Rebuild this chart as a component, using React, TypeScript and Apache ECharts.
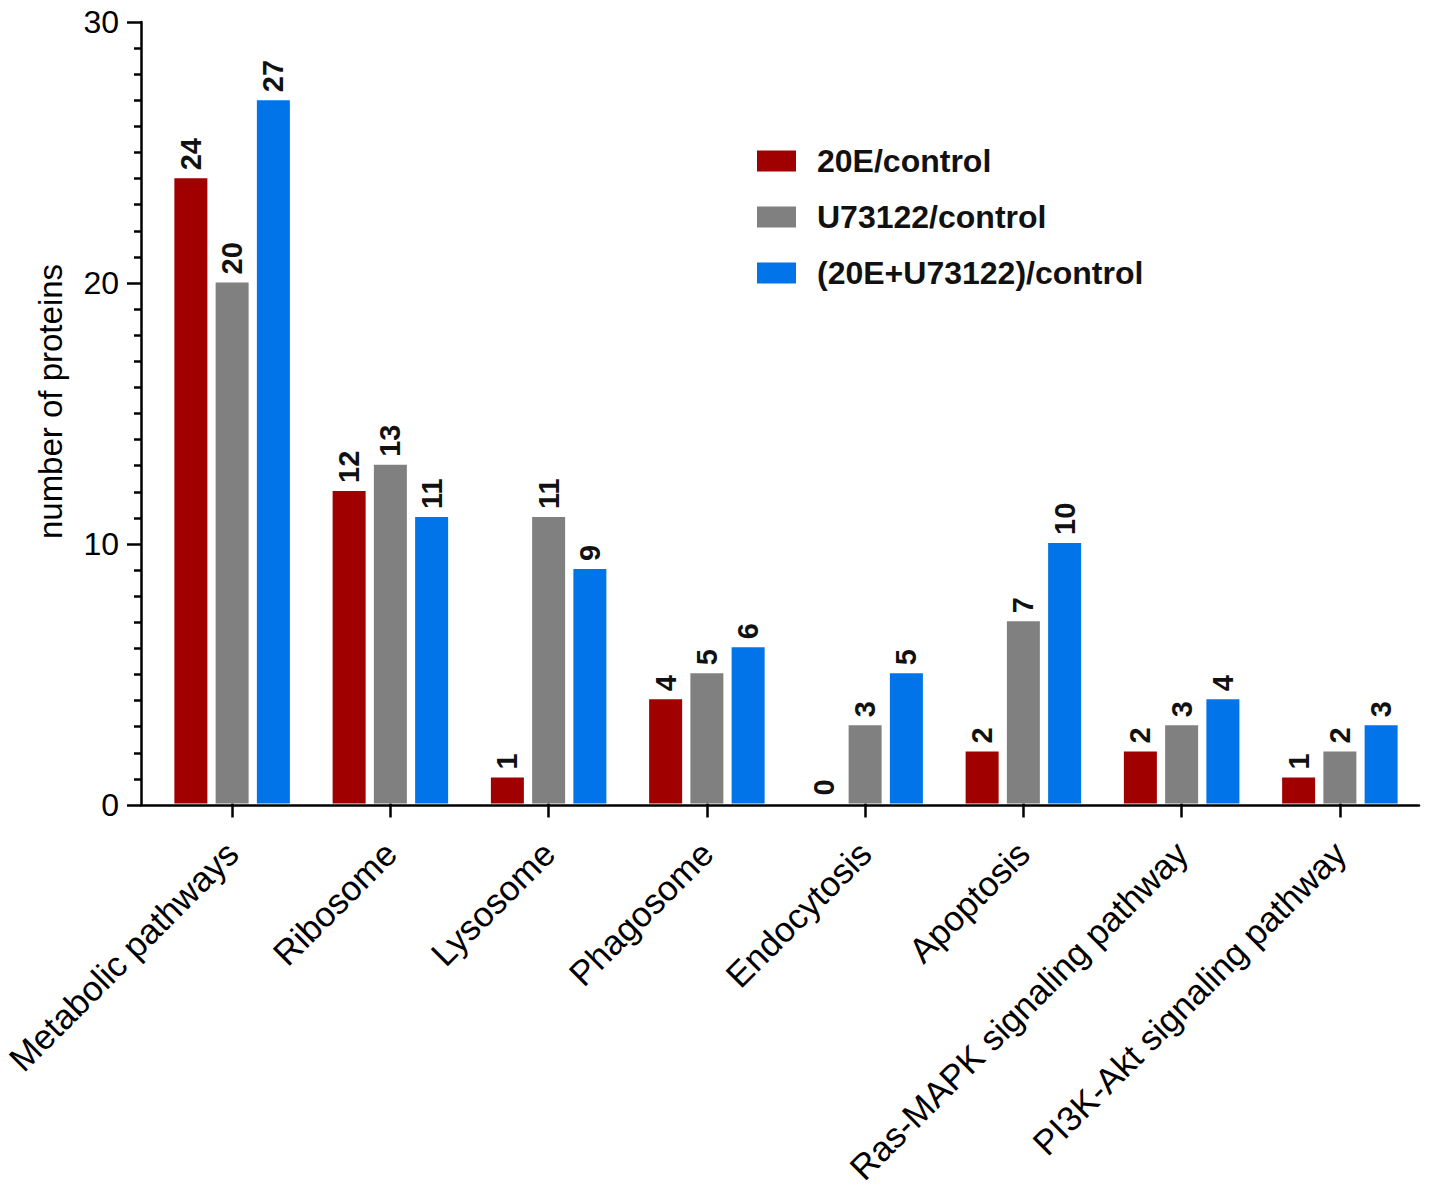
import React, { useEffect, useRef } from "react";
import * as echarts from "echarts";

const categories = [
  "Metabolic pathways",
  "Ribosome",
  "Lysosome",
  "Phagosome",
  "Endocytosis",
  "Apoptosis",
  "Ras-MAPK signaling pathway",
  "PI3K-Akt signaling pathway",
];
const seriesNames = ["20E/control", "U73122/control", "(20E+U73122)/control"];
const values20E = [24, 12, 1, 4, 0, 2, 2, 1];
const valuesU73122 = [20, 13, 11, 5, 3, 7, 3, 2];
const valuesBoth = [27, 11, 9, 6, 5, 10, 4, 3];
const colors = ["#A00000", "#808080", "#0074E8"];
const yTicks = { min: 0, max: 30, interval: 10 };

const FONT = "'Liberation Sans', Arial, sans-serif";

export default function App() {
  const ref = useRef<HTMLDivElement>(null);
  useEffect(() => {
    document.body.style.margin = "0";
    const chart = echarts.init(ref.current!, null, { renderer: "svg" });
    const dataSets = [values20E, valuesU73122, valuesBoth];
    const label = {
      show: true,
      position: "top",
      rotate: 90,
      align: "left",
      verticalAlign: "middle",
      distance: 8,
      fontSize: 29,
      fontWeight: "bold",
      color: "#111",
      fontFamily: FONT,
    };
    chart.setOption({
      animation: false,
      textStyle: { fontFamily: FONT },
      grid: [
        { left: 153, right: 11, top: 22, bottom: 383, containLabel: false },
        { left: 141, right: 11, top: 22, bottom: 383, containLabel: false },
      ],
      legend: {
        orient: "vertical",
        left: 752,
        top: 140,
        itemWidth: 39,
        itemHeight: 21,
        itemGap: 24,
        icon: "rect",
        data: seriesNames,
        textStyle: {
          fontSize: 32,
          fontWeight: "bold",
          color: "#111",
          fontFamily: FONT,
          lineHeight: 30,
          height: 30,
          padding: [0, 0, 0, 16],
        },
      },
      xAxis: [
        {
          type: "category",
          gridIndex: 0,
          data: categories,
          boundaryGap: true,
          axisLine: { show: false },
          axisTick: {
            show: true,
            alignWithLabel: true,
            length: 14,
            lineStyle: { color: "#000", width: 2.5 },
          },
          axisLabel: {
            rotate: 45,
            interval: 0,
            fontSize: 35,
            color: "#000",
            margin: 44,
            fontFamily: FONT,
          },
        },
        {
          type: "value",
          gridIndex: 1,
          min: 0,
          max: 1,
          axisLine: { show: true, lineStyle: { color: "#000", width: 2.5 } },
          axisTick: { show: false },
          axisLabel: { show: false },
          splitLine: { show: false },
        },
      ],
      yAxis: [
        {
          type: "value",
          gridIndex: 0,
          min: yTicks.min,
          max: yTicks.max,
          interval: yTicks.interval,
          show: false,
          splitLine: { show: false },
        },
        {
          type: "value",
          gridIndex: 1,
          min: yTicks.min,
          max: yTicks.max,
          interval: yTicks.interval,
          name: "number of proteins",
          nameLocation: "middle",
          nameRotate: 90,
          nameGap: 74,
          nameTextStyle: { fontSize: 33, color: "#000", fontFamily: FONT, padding: [0, 0, 0, 24] },
          axisLine: { show: true, lineStyle: { color: "#000", width: 2.5 } },
          axisTick: { show: true, length: 14, lineStyle: { color: "#000", width: 2.5 } },
          minorTick: { show: true, splitNumber: 10, length: 7, lineStyle: { color: "#000", width: 2.5 } },
          axisLabel: { fontSize: 32, color: "#000", margin: 22, fontFamily: FONT },
          splitLine: { show: false },
          minorSplitLine: { show: false },
        },
      ],
      series: seriesNames.map((name, i) => ({
        name,
        type: "bar",
        xAxisIndex: 0,
        yAxisIndex: 0,
        data: dataSets[i],
        barWidth: 33,
        barGap: "25%",
        itemStyle: { color: colors[i] },
        label,
      })),
    });
    return () => chart.dispose();
  }, []);
  return <div ref={ref} style={{ width: 1430, height: 1188 }} />;
}
